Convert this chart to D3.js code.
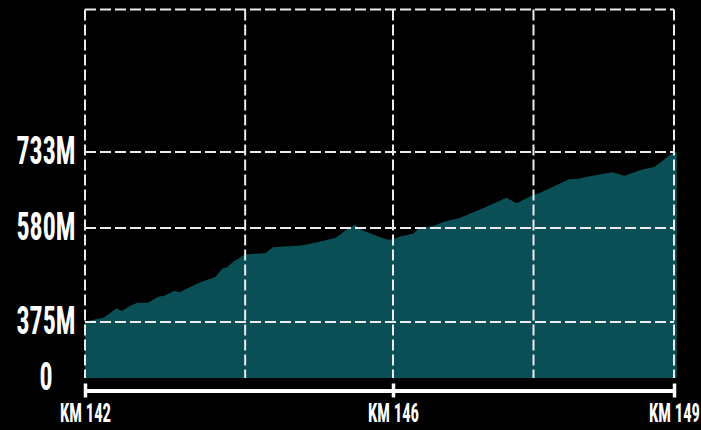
<!DOCTYPE html>
<html><head><meta charset="utf-8">
<script src="https://cdn.jsdelivr.net/npm/d3@7"></script>
<style>html,body{margin:0;padding:0;background:#000;} svg{display:block}</style>
</head><body>
<svg id="chart" width="701" height="430"></svg>
<script>
// ---- data ----
const distanceKm = [142.00,142.24,142.41,142.48,142.58,142.68,142.82,142.95,143.03,143.16,143.23,143.36,143.49,143.69,143.79,143.84,143.93,144.09,144.34,144.44,144.53,144.81,144.96,145.25,145.40,145.51,145.59,145.74,145.92,146.00,146.07,146.22,146.27,146.43,146.55,146.71,146.93,147.21,147.32,147.49,147.56,147.88,147.97,148.13,148.34,148.47,148.66,148.79,148.98,149.03];
const elevationM = [376,384,405,399,410,417,417,430,432,443,440,451,461,473,492,494,507,523,525,538,539,542,547,558,577,587,576,566,555,555,561,568,579,584,593,600,617,641,630,646,650,678,679,685,692,685,698,703,730,733];
const yTickValues = [0,375,580,733];
const yTickLabels = ["0","375M","580M","733M"];
const yGridValues = [375,580,733,1020];
const xTickValues = [142,146,149];
const xTickLabels = ["KM 142","KM 146","KM 149"];
const xGridValues = [142,144.08,146,147.5,149];

const data = distanceKm.map((km,i)=>({km, m: elevationM[i]}));

const svg = d3.select("#chart");
const FONT = '"Liberation Sans Narrow","Roboto Condensed","DejaVu Sans Condensed","Arial Narrow",sans-serif';

const x = d3.scaleLinear().domain([142,146,149]).range([85,393,674]);
const y = d3.scaleLinear().domain([0,375,580,733,1020]).range([378,322,228,152,9.5]);

// area
const area = d3.area().x(d=>x(d.km)).y0(y(0)).y1(d=>y(d.m));
svg.append("path").datum(data).attr("d", area).attr("fill", "#0a4f55");

// grid
const grid = svg.append("g").attr("stroke", "#ececec").attr("stroke-width", 2).attr("stroke-dasharray", "11,4").attr("fill","none");
grid.selectAll("line.h").data(yGridValues).join("line").attr("class","h")
  .attr("x1", x(142)).attr("x2", x(149)).attr("y1", d=>y(d)).attr("y2", d=>y(d));
grid.selectAll("line.v").data(xGridValues).join("line").attr("class","v")
  .attr("x1", d=>x(d)).attr("x2", d=>x(d)).attr("y1", y(1020)).attr("y2", y(0));

// y labels
const yl = svg.append("g").selectAll("text").data(yTickValues).join("text")
  .attr("x", 46).attr("y", d=>y(d)+12).attr("text-anchor","middle")
  .attr("fill","#fff").attr("font-family",FONT).attr("font-weight","bold").attr("font-size",38)
  .text((d,i)=>yTickLabels[i]);

// x axis
const axis = d3.axisBottom(x).tickValues(xTickValues).tickFormat((d,i)=>xTickLabels[i]).tickSizeOuter(0).tickSizeInner(0);
const ag = svg.append("g").attr("transform","translate(0,390.5)").call(axis);
ag.select(".domain").attr("stroke","#fff").attr("stroke-width",4);
ag.selectAll(".tick line").attr("stroke","#fff").attr("stroke-width",3.5).attr("y1",-7).attr("y2",7);
ag.selectAll(".tick text").attr("y",31.5).attr("dy",0).attr("fill","#fff")
  .attr("font-family",FONT).attr("font-weight","bold").attr("font-size",26);

// condense text to match narrow display face
function condense(sel, refText, target){
  let w = null;
  sel.each(function(){ if (this.textContent===refText) w = this.getComputedTextLength(); });
  const k = w ? target / w : 1;
  sel.each(function(){
    const L = this.getComputedTextLength();
    d3.select(this).attr("textLength", L*k).attr("lengthAdjust","spacingAndGlyphs");
  });
}
condense(yl, "733M", 59);
condense(ag.selectAll(".tick text"), "KM 142", 51);
</script>
</body></html>
